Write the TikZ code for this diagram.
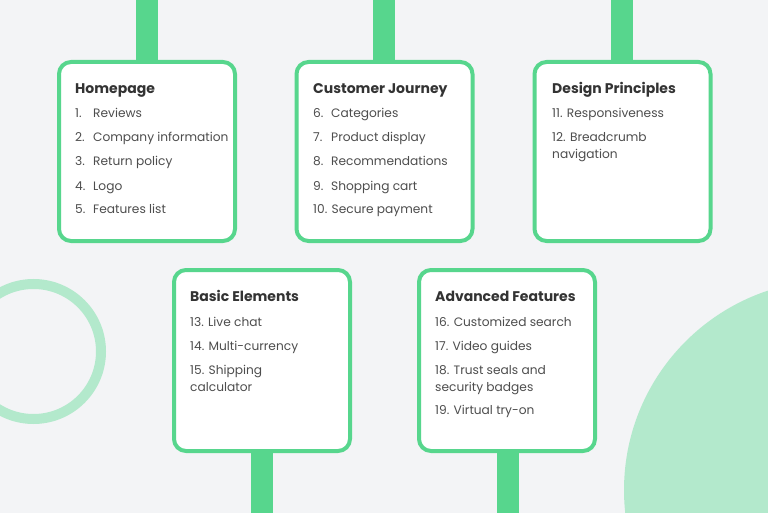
\documentclass[tikz,border=0pt]{standalone}
\usepackage{fontspec}
\setmainfont{Poppins}
\usetikzlibrary{backgrounds}
\definecolor{bgc}{HTML}{F3F4F6}
\definecolor{grn}{HTML}{57D68D}
\definecolor{lgrn}{HTML}{B3E9CC}
\definecolor{ttl}{HTML}{333333}
\definecolor{itm}{HTML}{4D4D4D}
\tikzset{
  card/.style={draw=grn, line width=4pt, fill=white, rounded corners=12pt,
    minimum width=176pt, inner sep=0pt, outer sep=0pt},
  topcard/.style={card, minimum height=179pt},
  botcard/.style={card, minimum height=181pt},
  stem/.style={draw=grn, line width=22pt},
  ttltext/.style={anchor=base west, inner sep=0pt, text=ttl, font=\fontsize{14pt}{16pt}\selectfont\bfseries},
  itmtext/.style={anchor=base west, inner sep=0pt, text=itm, font=\fontsize{12.2pt}{17pt}\selectfont},
}
\newcommand{\numbox}[1]{\makebox[18pt][l]{#1}}
\newcommand{\twolines}[2]{\vtop{\baselineskip=17pt\hbox{#1}\hbox{#2}}}
\begin{document}
\begin{tikzpicture}[x=1pt,y=-1pt]
\useasboundingbox (0,0) rectangle (768,513);
\fill[bgc] (0,0) rectangle (768,513);
% decorative circles
\draw[lgrn, line width=10pt] (33.5,351.5) circle[radius=67.5];
\fill[lgrn] (834,490) circle[radius=210];
% cards
\node[topcard] (b1) at (147,151.5) {};
\node[topcard] (b2) at (384.5,151.5) {};
\node[topcard] (b3) at (622.5,151.5) {};
\node[botcard] (b4) at (262,360.5) {};
\node[botcard] (b5) at (507,360.5) {};
% stems
\coordinate (s1) at (147,0);
\coordinate (s2) at (384,0);
\coordinate (s3) at (621.5,0);
\coordinate (s4) at (262,513);
\coordinate (s5) at (507.5,513);
\draw[stem] (s1) -- (s1 |- b1.north);
\draw[stem] (s2) -- (s2 |- b2.north);
\draw[stem] (s3) -- (s3 |- b3.north);
\draw[stem] (s4) -- (s4 |- b4.south);
\draw[stem] (s5) -- (s5 |- b5.south);
% card 1
\node[ttltext] (h1) at (75,93.5) {Homepage};
\node[itmtext] (i1) at (75,118) {\numbox{1.}Reviews};
\node[itmtext] (i2) at (75,142) {\numbox{2.}Company information};
\node[itmtext] (i3) at (75,166) {\numbox{3.}Return policy};
\node[itmtext] (i4) at (75,190) {\numbox{4.}Logo};
\node[itmtext] (i5) at (75,214) {\numbox{5.}Features list};
% card 2
\node[ttltext] (h2) at (313,93.5) {Customer Journey};
\node[itmtext] (i6) at (313,118) {\numbox{6.}Categories};
\node[itmtext] (i7) at (313,142) {\numbox{7.}Product display};
\node[itmtext] (i8) at (313,166) {\numbox{8.}Recommendations};
\node[itmtext] (i9) at (313,190) {\numbox{9.}Shopping cart};
\node[itmtext] (i10) at (313,214) {10. Secure payment};
% card 3
\node[ttltext] (h3) at (552,93.5) {Design Principles};
\node[itmtext] (i11) at (552,118) {11. Responsiveness};
\node[itmtext] (i12) at (552,142) {\twolines{12. Breadcrumb}{navigation}};
% card 4
\node[ttltext] (h4) at (190,301.5) {Basic Elements};
\node[itmtext] (i13) at (190,326.5) {13. Live chat};
\node[itmtext] (i14) at (190,350.5) {14. Multi-currency};
\node[itmtext] (i15) at (190,374.5) {\twolines{15. Shipping}{calculator}};
% card 5
\node[ttltext] (h5) at (435,301.5) {Advanced Features};
\node[itmtext] (i16) at (435,326.5) {16. Customized search};
\node[itmtext] (i17) at (435,350.5) {17. Video guides};
\node[itmtext] (i18) at (435,374.5) {\twolines{18. Trust seals and}{security badges}};
\node[itmtext] (i19) at (435,414.5) {19. Virtual try-on};
\end{tikzpicture}
\end{document}
